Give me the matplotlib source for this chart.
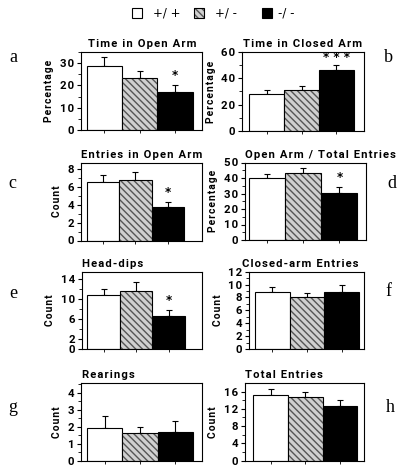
import matplotlib
matplotlib.use("Agg")
import matplotlib.pyplot as plt
from matplotlib.ticker import MultipleLocator, FixedLocator
import numpy as np

# genotypes
genotypes = ["+/ +", "+/ -", "-/ -"]

titles = ["Time in Open Arm", "Time in Closed Arm", "Entries in Open Arm",
          "Open Arm / Total Entries", "Head-dips", "Closed-arm Entries",
          "Rearings", "Total Entries"]
ylabels = ["Percentage", "Percentage", "Count", "Percentage",
           "Count", "Count", "Count", "Count"]
letters = ["a", "b", "c", "d", "e", "f", "g", "h"]

# mean values (+/+, +/-, -/-)
time_open = [28.5, 23.2, 17.0]
time_closed = [28.2, 30.8, 46.4]
entries_open = [6.55, 6.85, 3.75]
open_total = [40.3, 43.4, 30.5]
head_dips = [10.7, 11.6, 6.6]
closed_entries = [8.9, 8.0, 8.8]
rearings = [1.9, 1.6, 1.7]
total_entries = [15.2, 14.8, 12.6]

# s.e.m.
time_open_err = [4.2, 3.2, 3.1]
time_closed_err = [2.6, 3.6, 3.9]
entries_open_err = [0.8, 0.85, 0.6]
open_total_err = [2.2, 3.3, 3.5]
head_dips_err = [1.2, 1.7, 1.1]
closed_entries_err = [0.7, 0.7, 1.2]
rearings_err = [0.7, 0.4, 0.65]
total_entries_err = [1.4, 1.2, 1.5]

stars = ["*", "* * *", "*", "*", "*", "", "", ""]

means = [time_open, time_closed, entries_open, open_total,
         head_dips, closed_entries, rearings, total_entries]
errs = [time_open_err, time_closed_err, entries_open_err, open_total_err,
        head_dips_err, closed_entries_err, rearings_err, total_entries_err]

# layout in pixels: left, right, top, bottom
W, H = 401.0, 471.0
boxes = [(80.7, 202, 52, 130), (242.3, 364, 52, 131),
         (80.7, 202.3, 162.7, 240.5), (245, 365.7, 162.5, 240),
         (81.7, 201.7, 271.7, 349), (249.3, 364, 271.7, 349),
         (81, 202.3, 383.3, 460.7), (245, 364, 383.3, 460.7)]
xgaps = [(0.17, 0.26), (0.2, 0.29), (0.18, 0.55), (0.12, 0.23),
         (0.17, 0.51), (0.16, 0.14), (0.17, 0.26), (0.24, 0.19)]
ytops = [35, 60, 8.75, 50, 15.4, 12, 4.55, 17.9]
majors = [[0, 10, 20, 30], [0, 20, 40, 60], [0, 2, 4, 6, 8], [0, 10, 20, 30, 40, 50],
          [0, 2, 6, 10, 14], [0, 2, 4, 6, 8, 10, 12], [0, 1, 2, 3, 4], [0, 4, 8, 12, 16]]
minors = [5, 10, 1, 5, 2, 1, 0.5, 2]
star_off = [7, 5, 7, 7, 7, 0, 0, 0]
title_x = [88, 243, 81, 245, 82, 242, 82, 245]

font = "Roboto"
HS = "\u200a"  # hair space, letter spacing
tickfont = {"family": font, "weight": "bold", "size": 8.2}


def spaced(s):
    return HS.join(s)


fig = plt.figure(figsize=(W / 100, H / 100), dpi=100)

x = np.arange(3)
for i in range(8):
    l, r, t, b = boxes[i]
    ax = fig.add_axes([l / W, 1 - b / H, (r - l) / W, (b - t) / H])
    m = means[i]
    e = errs[i]
    ax.bar(x[0], m[0], width=1, color="white", edgecolor="black", linewidth=0.8, zorder=2)
    ax.bar(x[1], m[1], width=1, color="#d0d0d0", edgecolor="#555555", hatch="\\\\\\\\\\",
           linewidth=0, zorder=2)
    ax.bar(x[1], m[1], width=1, fill=False, edgecolor="black", linewidth=0.8, zorder=3)
    ax.bar(x[2], m[2], width=1, color="black", edgecolor="black", linewidth=0.8, zorder=2)
    ax.errorbar(x, m, yerr=[[0, 0, 0], e], fmt="none", ecolor="black",
                elinewidth=0.8, capsize=2, capthick=0.8, zorder=1)
    if stars[i]:
        ax.annotate(stars[i], (x[2], m[2] + e[2]), xytext=(0, star_off[i]),
                    textcoords="offset points", ha="center", va="center",
                    fontsize=8.5, fontweight="bold")
    gl, gr = xgaps[i]
    ax.set_xlim(-0.5 - gl, 2.5 + gr)
    ax.set_ylim(0, ytops[i])
    ax.set_xticks(x)
    ax.set_xticklabels([])
    ax.yaxis.set_major_locator(FixedLocator(majors[i]))
    ax.yaxis.set_minor_locator(MultipleLocator(minors[i]))
    ax.set_yticklabels([spaced(str(v)) for v in majors[i]], fontdict=tickfont)
    ax.tick_params(axis="y", which="major", length=3, width=0.8, pad=2)
    ax.tick_params(axis="y", which="minor", length=2, width=0.6)
    ax.tick_params(axis="x", length=2, width=0.6)
    for s in ax.spines.values():
        s.set_linewidth(0.8)
    ax.set_ylabel(spaced(ylabels[i]), fontsize=7.4, fontweight="bold",
                  family=font, labelpad=4)
    fig.text(title_x[i] / W, 1 - (t - 3) / H, spaced(titles[i]),
             fontsize=8.1, fontweight="bold", family=font,
             ha="left", va="bottom")

# panel letters
letter_pos = [(13, 58), (388, 57), (12, 183), (392, 183),
              (13, 293), (388, 292), (13, 408), (390, 408)]
for lt, (px, py) in zip(letters, letter_pos):
    fig.text(px / W, 1 - py / H, lt, fontsize=13, family="Liberation Serif",
             ha="center", va="center")

# legend
leg_boxes = [(131.7, "white", None), (194, "#d0d0d0", "\\\\\\\\\\"), (262, "black", None)]
leg_text_x = [153, 215, 278]
for (bx, fc, hatch), tx, lab in zip(leg_boxes, leg_text_x, genotypes):
    fig.patches.append(plt.Rectangle((bx / W, 1 - 17.5 / H), 10 / W, 9.5 / H,
                                     transform=fig.transFigure, facecolor=fc,
                                     edgecolor="#555555" if hatch else "black",
                                     hatch=hatch, linewidth=0 if hatch else 0.8))
    if hatch:
        fig.patches.append(plt.Rectangle((bx / W, 1 - 17.5 / H), 10 / W, 9.5 / H,
                                         transform=fig.transFigure, fill=False,
                                         edgecolor="black", linewidth=0.8))
    fig.text(tx / W, 1 - 12.5 / H, lab, fontsize=8.5,
             ha="left", va="center")

fig.savefig("out.png", dpi=100)
plt.close(fig)
